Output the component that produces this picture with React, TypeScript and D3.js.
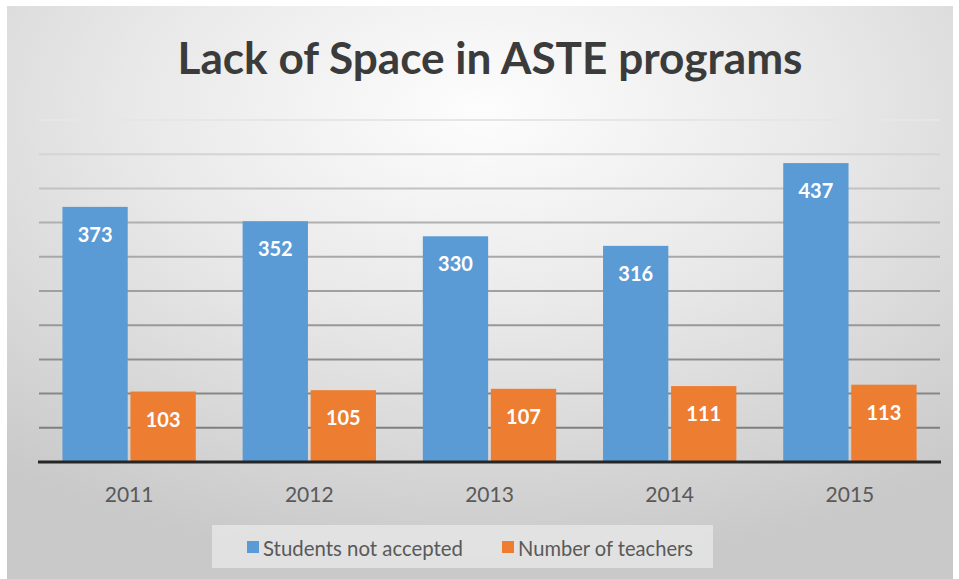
import React from 'react';
import * as d3 from 'd3';

const years = ['2011', '2012', '2013', '2014', '2015'];
const studentsNotAccepted = [373, 352, 330, 316, 437];
const numberOfTeachers = [103, 105, 107, 111, 113];
const seriesNames = ['Students not accepted', 'Number of teachers'];
const seriesColors = ['#5B9BD5', '#ED7D31'];
const yTicks = [0, 50, 100, 150, 200, 250, 300, 350, 400, 450, 500];

const W = 959;
const H = 579;
const FONT = "Lato, 'Open Sans', sans-serif";

const App: React.FC = () => {
  const x = d3.scaleBand<string>().domain(years).range([39, 940]).paddingInner(0.26).paddingOuter(0.13);
  const x1 = d3.scaleBand<number>().domain([0, 1]).range([0, x.bandwidth()]).paddingInner(0.04);
  const y = d3.scaleLinear().domain([0, 500]).range([462, 120]);
  // gridlines fade out toward the top like the original picture
  const gridColor = d3.scaleLinear<string>().domain([500, 350, 0]).range(['#e6e6e6', '#b0b0b0', '#777777']);

  const series = [studentsNotAccepted, numberOfTeachers];

  return (
    <svg width={W} height={H} style={{ position: 'absolute', left: 0, top: 0 }}>
      <defs>
        <radialGradient id="bg" cx="50%" cy="18%" r="80%">
          <stop offset="0%" stopColor="#fdfdfd" />
          <stop offset="45%" stopColor="#e9e9e9" />
          <stop offset="100%" stopColor="#c9c9c9" />
        </radialGradient>
      </defs>
      <rect x={0} y={0} width={W} height={H} fill="#ffffff" />
      <rect x={7} y={6} width={946} height={573} fill="url(#bg)" />

      {/* title */}
      <text
        x={490}
        y={74}
        textAnchor="middle"
        fontFamily={FONT}
        fontWeight={700}
        fontSize={43}
        fill="#3b3b3b"
        textLength={625}
        lengthAdjust="spacingAndGlyphs"
      >
        Lack of Space in ASTE programs
      </text>

      {/* gridlines */}
      {yTicks.slice(1).map(t => (
        <line key={t} x1={39} x2={940} y1={y(t)} y2={y(t)} stroke={gridColor(t)} strokeWidth={2} />
      ))}

      {/* bars */}
      {years.map((yr, i) => (
        <g key={yr} transform={`translate(${x(yr)},0)`}>
          {series.map((s, j) => (
            <g key={j}>
              <rect
                x={x1(j)}
                y={y(s[i])}
                width={x1.bandwidth()}
                height={y(0) - y(s[i])}
                fill={seriesColors[j]}
              />
              <text
                x={(x1(j) ?? 0) + x1.bandwidth() / 2}
                y={y(s[i]) + 27}
                textAnchor="middle"
                dominantBaseline="central"
                fontFamily={FONT}
                fontWeight={700}
                fontSize={20}
                fill="#ffffff"
              >
                {s[i]}
              </text>
            </g>
          ))}
        </g>
      ))}

      {/* baseline */}
      <line x1={38} x2={941} y1={y(0)} y2={y(0)} stroke="#262626" strokeWidth={3} />

      {/* x labels */}
      {years.map(yr => (
        <text
          key={yr}
          x={(x(yr) ?? 0) + x.bandwidth() / 2}
          y={493}
          textAnchor="middle"
          dominantBaseline="central"
          fontFamily={FONT}
          fontSize={21}
          fill="#595959"
        >
          {yr}
        </text>
      ))}

      {/* legend */}
      <rect x={212} y={525} width={501} height={43} fill="#ebebeb" opacity={0.7} />
      {seriesNames.map((name, j) => {
        const lx = [247, 502][j];
        const tl = [200, 175][j];
        return (
          <g key={name}>
            <rect x={lx} y={541} width={12} height={12} fill={seriesColors[j]} />
            <text
              x={lx + 16}
              y={547}
              dominantBaseline="central"
              fontFamily={FONT}
              fontSize={21}
              fill="#595959"
              textLength={tl}
              lengthAdjust="spacingAndGlyphs"
            >
              {name}
            </text>
          </g>
        );
      })}
    </svg>
  );
};

export default App;
